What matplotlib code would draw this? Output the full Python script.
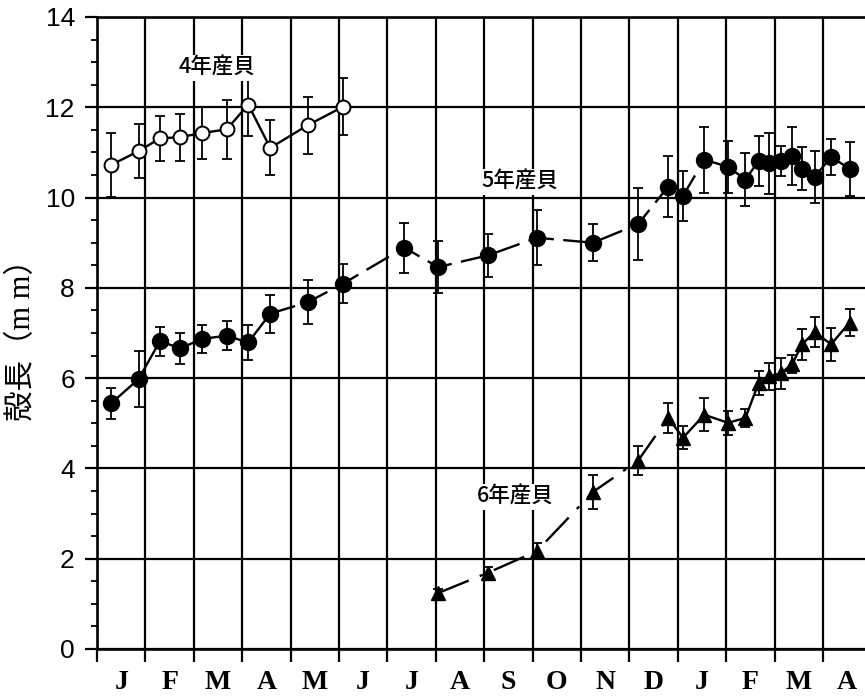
import matplotlib
matplotlib.use("Agg")
import matplotlib.pyplot as plt
from matplotlib.ticker import MultipleLocator, FixedLocator, NullFormatter, FixedFormatter
import numpy as np

# Month labels (Jan of year 1 through Apr of year 2)
months = ["J", "F", "M", "A", "M", "J", "J", "A", "S", "O", "N", "D", "J", "F", "M", "A"]

# Sampling positions in months from the start of January (year 1)
x_g4 = [0.29, 0.86, 1.30, 1.72, 2.17, 2.68, 3.125, 3.58, 4.35, 5.08]
x_g5 = [0.29, 0.86, 1.30, 1.72, 2.17, 2.68, 3.125, 3.58, 4.35, 5.08,
        6.35, 7.05, 8.08, 9.09, 10.25, 11.18, 11.80, 12.11,
        12.55, 13.04, 13.40, 13.67, 13.89, 14.14, 14.37, 14.57, 14.83, 15.17, 15.55]
x_g6 = [7.05, 8.08, 9.09, 10.25, 11.18, 11.80, 12.11, 12.55, 13.04, 13.40,
        13.67, 13.89, 14.14, 14.37, 14.57, 14.83, 15.17, 15.55]

# Mean shell length (mm) and error
y_g4 = [10.72, 11.03, 11.31, 11.34, 11.43, 11.51, 12.06, 11.10, 11.60, 12.01]
e_g4 = [0.70, 0.60, 0.50, 0.52, 0.58, 0.65, 0.70, 0.61, 0.63, 0.63]

y_g5 = [5.44, 5.98, 6.82, 6.66, 6.87, 6.94, 6.79, 7.43, 7.68, 8.09,
        8.89, 8.46, 8.72, 9.11, 9.00, 9.41, 10.24, 10.04,
        10.84, 10.68, 10.40, 10.81, 10.76, 10.81, 10.92, 10.64, 10.46, 10.90, 10.64]
e_g5 = [0.35, 0.63, 0.32, 0.35, 0.31, 0.32, 0.38, 0.42, 0.49, 0.43,
        0.55, 0.58, 0.48, 0.61, 0.41, 0.80, 0.68, 0.55,
        0.73, 0.57, 0.58, 0.56, 0.68, 0.33, 0.64, 0.48, 0.57, 0.40, 0.60]

y_g6 = [1.24, 1.69, 2.17, 3.48, 4.17, 5.12, 4.68, 5.19, 5.01, 5.12,
        5.89, 6.04, 6.11, 6.32, 6.75, 7.02, 6.75, 7.23]
e_g6 = [0.10, 0.12, 0.18, 0.37, 0.32, 0.33, 0.26, 0.36, 0.26, 0.20,
        0.26, 0.30, 0.34, 0.20, 0.34, 0.34, 0.36, 0.30]

series_labels = ["4年産貝", "5年産貝", "6年産貝"]

cjk = ["Noto Sans CJK JP", "DejaVu Sans"]

fig = plt.figure(figsize=(8.65, 7.0), dpi=100)
ax = fig.add_axes([97 / 865, 51 / 700, 768 / 865, 632 / 700])
ax.set_xlim(0, 15.87)
ax.set_ylim(0, 14)

# grid
for xv in range(0, 16):
    ax.axvline(xv, color="black", lw=1.6, zorder=1)
for yv in range(0, 15, 2):
    ax.axhline(yv, color="black", lw=1.6, zorder=1)

for s in ["left", "top", "bottom"]:
    ax.spines[s].set_linewidth(1.9)
ax.spines["right"].set_visible(False)

# ticks
ax.xaxis.set_major_locator(FixedLocator(np.arange(0, 16)))
ax.xaxis.set_major_formatter(NullFormatter())
ax.xaxis.set_minor_locator(FixedLocator(np.arange(16) + 0.5))
ax.xaxis.set_minor_formatter(FixedFormatter(months))
ax.tick_params(axis="x", which="major", direction="out", length=9.5, width=1.6)
ax.tick_params(axis="x", which="minor", length=0, pad=15)
for lab in ax.xaxis.get_minorticklabels():
    lab.set_fontfamily("Liberation Serif")
    lab.set_fontweight("bold")
    lab.set_fontsize(20)

ax.yaxis.set_major_locator(MultipleLocator(2))
ax.yaxis.set_minor_locator(MultipleLocator(0.5))
ax.tick_params(axis="y", which="major", direction="out", length=9, width=1.6, pad=7,
               labelsize=19)
ax.tick_params(axis="y", which="minor", direction="out", length=4.5, width=1.3)
for lab in ax.get_yticklabels():
    lab.set_fontfamily("Liberation Sans")

ax.set_ylabel("殻長（m m）", family=["Liberation Serif", "Noto Sans CJK JP"],
              fontsize=22)
ax.yaxis.set_label_coords(-0.078, 0.5)

lw = 1.7
ekw = dict(ecolor="black", elinewidth=1.3, capsize=3.5, capthick=1.3, zorder=3)

# 4年産貝: open circles, solid line
ax.errorbar(x_g4, y_g4, yerr=e_g4, fmt="none", **ekw)
ax.plot(x_g4, y_g4, color="black", lw=lw, marker="o", ms=10, mfc="white",
        mec="black", mew=1.4, zorder=4)

# 5年産貝: filled circles, solid / dashed / solid
ax.errorbar(x_g5, y_g5, yerr=e_g5, fmt="none", **ekw)
ax.plot(x_g5[:8], y_g5[:8], color="black", lw=lw, zorder=2)
ax.plot(x_g5[7:19], y_g5[7:19], color="black", lw=lw, dashes=(11, 4), zorder=2)
ax.plot(x_g5[18:], y_g5[18:], color="black", lw=lw, zorder=2)
ax.plot(x_g5, y_g5, ls="none", marker="o", ms=11.5, color="black", zorder=4)

# 6年産貝: triangles, dash-dot then solid
ax.errorbar(x_g6, y_g6, yerr=e_g6, fmt="none", **ekw)
ax.plot(x_g6[:6], y_g6[:6], color="black", lw=lw, dashes=(14, 5, 1.5, 5), zorder=2)
ax.plot(x_g6[5:], y_g6[5:], color="black", lw=lw, zorder=2)
ax.plot(x_g6, y_g6, ls="none", marker="^", ms=10.5, color="black", zorder=4)

# series annotations
box = dict(facecolor="white", edgecolor="none", pad=1.5)
label_pos = [(2.48, 12.87), (8.74, 10.35), (8.64, 3.37)]
for (lx, ly), txt in zip(label_pos, series_labels):
    ax.text(lx, ly, txt, family=cjk, fontsize=15.5, fontweight="medium",
            ha="center", va="center", bbox=box, zorder=5)

fig.savefig("out.png", dpi=100)
